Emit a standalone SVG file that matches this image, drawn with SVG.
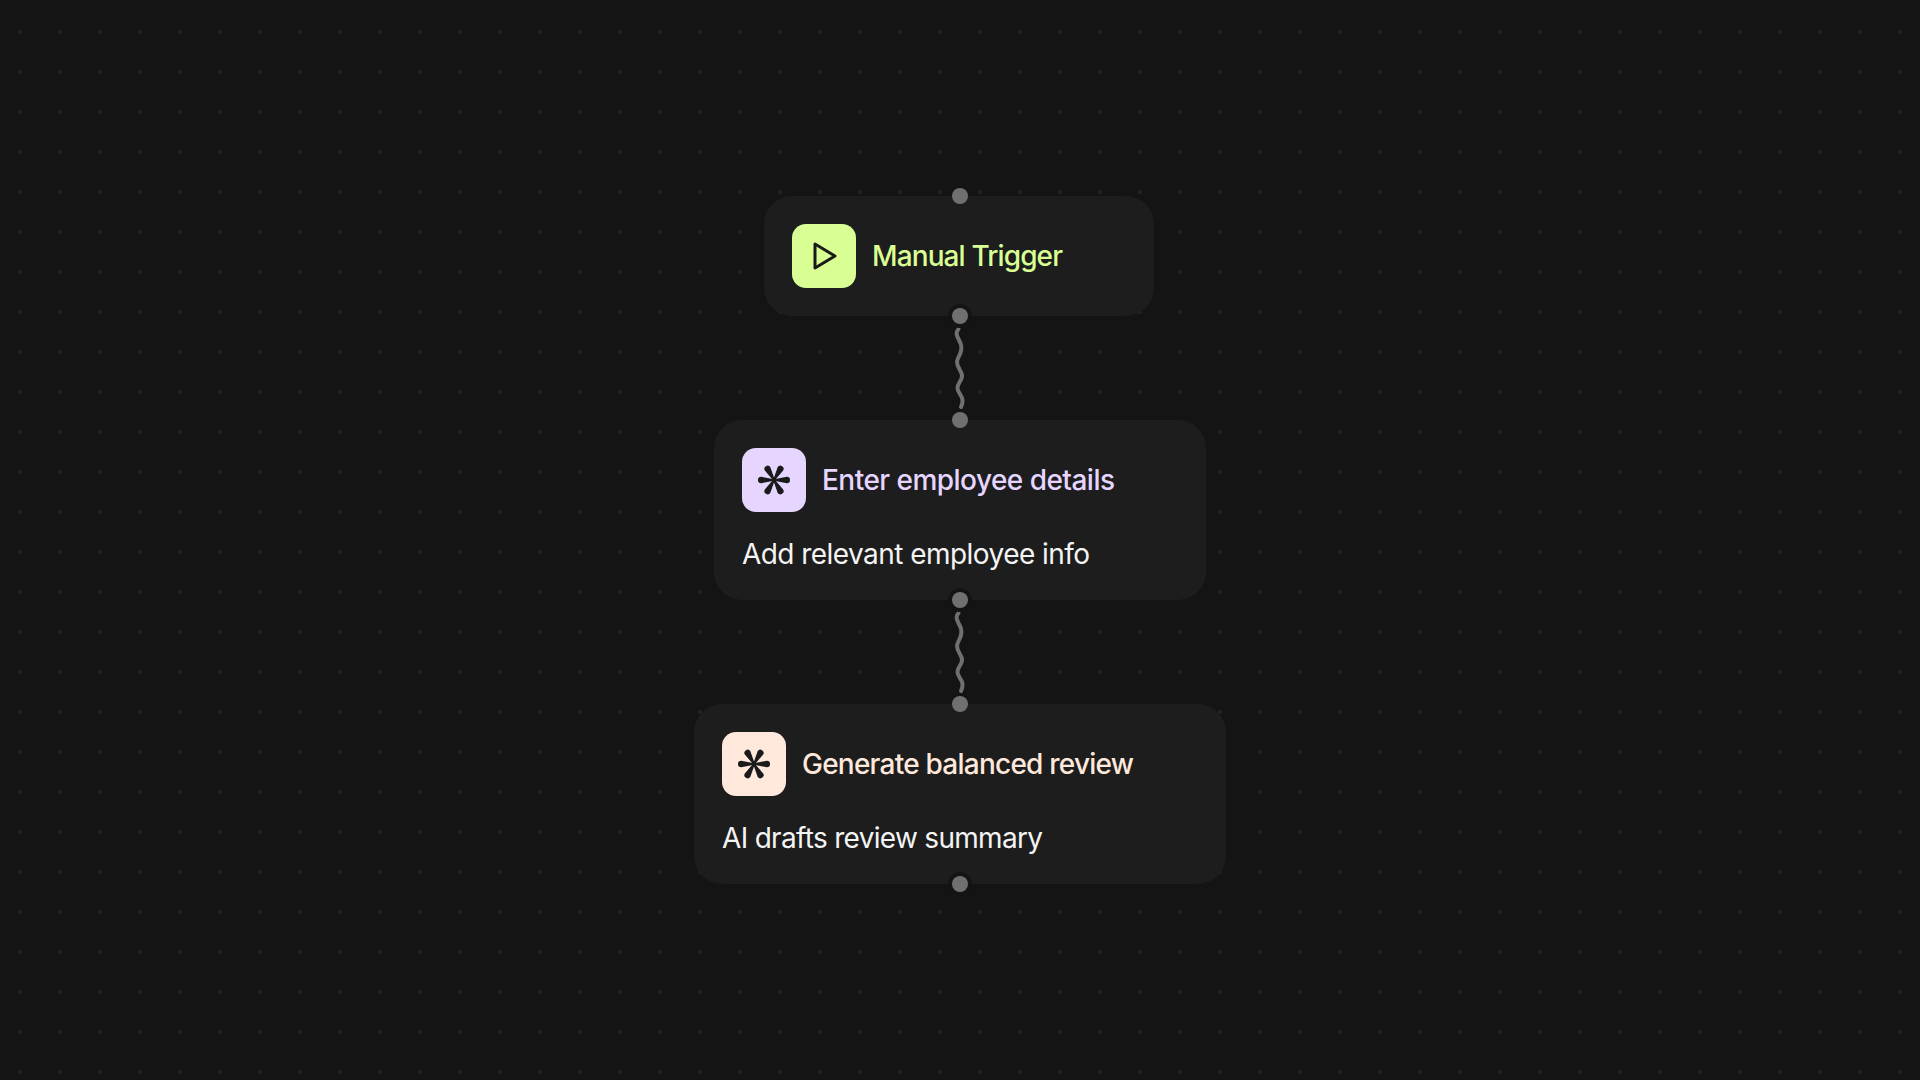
<svg xmlns="http://www.w3.org/2000/svg" width="1920" height="1080" viewBox="0 0 1920 1080">
<style>
.node{fill:#1e1e1e;fill-opacity:.95}
.port{fill:#707070}
.halo{fill:#141414}
.wave{fill:none;stroke:#707070;stroke-width:4;stroke-linecap:round}
.t{font-family:Inter,"Noto Sans",sans-serif;font-size:28px;font-weight:500}
.s{font-family:Inter,"Noto Sans",sans-serif;font-size:28px;font-weight:400;fill:#f4f4f4}
.ic{fill:none;stroke:#1a1a1a;stroke-width:3;stroke-linejoin:round;stroke-linecap:round}
.sp{fill:#1a1a1a}
</style>
<defs>
<pattern id="dots" x="0" y="12" width="40" height="40" patternUnits="userSpaceOnUse"><circle cx="20" cy="20" r="2" fill="#242424"/></pattern>
<path id="w" d="M958.5 329C955 333 957 336 959 340C961 344 962 346 961 351C960 356 957 358 957 362C957 367 961 370 962 375C962.700 380 957.500 383 957.500 388C957.500 393 962 395 962.500 400C962.800 403 962 405 961 407"/>
<path id="spoke" d="M0 -.8L12.800 -3.200A3.200 3.200 0 0 1 12.800 3.200L0 .8Z"/>
<g id="star">
<use href="#spoke"/>
<use href="#spoke" transform="rotate(60)"/>
<use href="#spoke" transform="rotate(120)"/>
<use href="#spoke" transform="rotate(180)"/>
<use href="#spoke" transform="rotate(240)"/>
<use href="#spoke" transform="rotate(300)"/>
</g>
</defs>
<rect width="1920" height="1080" fill="#141414"/>
<rect width="1920" height="1080" fill="url(#dots)"/>
<g id="connectors">
<use href="#w" class="wave"/>
<use href="#w" class="wave" y="284"/>
</g>
<g id="node-manual-trigger">
<rect class="node" x="764" y="196" width="390" height="120" rx="28"/>
<rect x="792" y="224" width="64" height="64" rx="14" fill="#d9ff94"/>
<path class="ic" d="M815 244L835 256L815 268Z"/>
<text class="t" x="872" y="266" fill="#d9ff94" textLength="191">Manual Trigger</text>
<circle class="port" cx="960" cy="196" r="8"/>
<circle class="halo" cx="960" cy="316" r="12"/>
<circle class="port" cx="960" cy="316" r="8"/>
</g>
<g id="node-enter-employee-details">
<rect class="node" x="714" y="420" width="492" height="180" rx="28"/>
<rect x="742" y="448" width="64" height="64" rx="14" fill="#e6d6ff"/>
<use href="#star" class="sp" x="774" y="480"/>
<text class="t" x="822" y="490" fill="#e6d6ff" textLength="293">Enter employee details</text>
<text class="s" x="742" y="564" textLength="348">Add relevant employee info</text>
<circle class="port" cx="960" cy="420" r="8"/>
<circle class="halo" cx="960" cy="600" r="12"/>
<circle class="port" cx="960" cy="600" r="8"/>
</g>
<g id="node-generate-balanced-review">
<rect class="node" x="694" y="704" width="532" height="180" rx="28"/>
<rect x="722" y="732" width="64" height="64" rx="14" fill="#ffe8dc"/>
<use href="#star" class="sp" x="754" y="764"/>
<text class="t" x="802" y="774" fill="#ffe8dc" textLength="332">Generate balanced review</text>
<text class="s" x="722" y="848" textLength="321">AI drafts review summary</text>
<circle class="port" cx="960" cy="704" r="8"/>
<circle class="halo" cx="960" cy="884" r="12"/>
<circle class="port" cx="960" cy="884" r="8"/>
</g>
</svg>
